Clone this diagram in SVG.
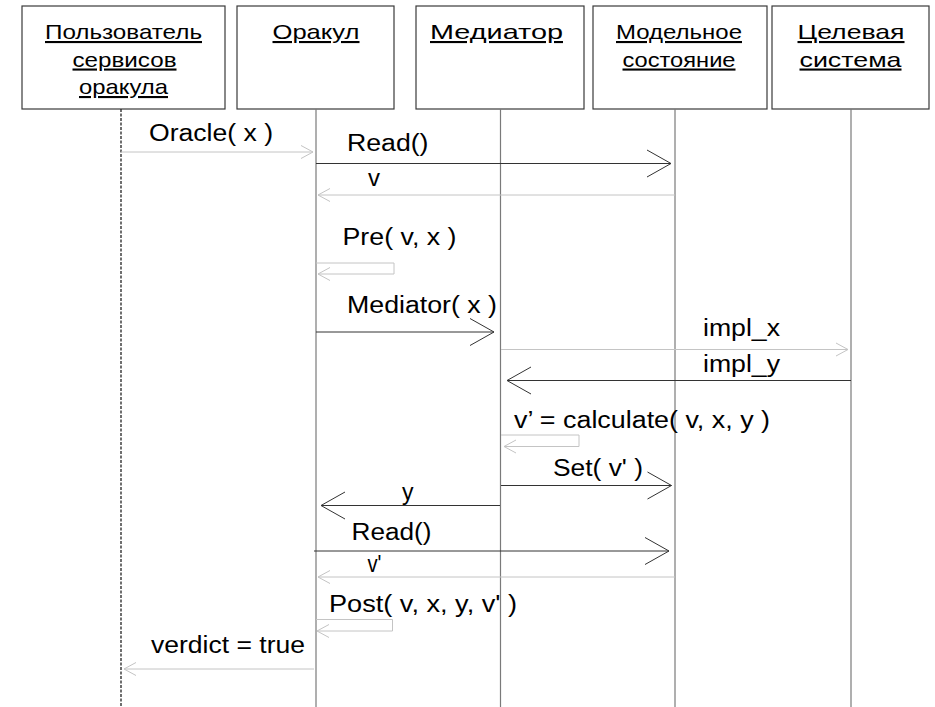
<svg xmlns="http://www.w3.org/2000/svg" width="935" height="707" viewBox="0 0 935 707">
<style>
  .box { fill: #ffffff; stroke: #3a3a3a; stroke-width: 1.2; }
  .title { font-family: "Liberation Sans", Arial, sans-serif; font-size: 21px; fill: #000; text-anchor: middle; text-decoration: underline; }
  .lbl { font-family: "Liberation Sans", Arial, sans-serif; font-size: 23.5px; fill: #000; }
  .life { stroke: #7a7a7a; stroke-width: 1.2; fill: none; }
  .life-dash { stroke: #222; stroke-width: 1.3; stroke-dasharray: 3 1.5; fill: none; }
  .dark { stroke: #333; stroke-width: 1; fill: none; }
  .light { stroke: #c4c4c4; stroke-width: 1; fill: none; }
</style>
<defs>
  <marker id="big" markerUnits="userSpaceOnUse" viewBox="-26 -15 28 30" refX="0" refY="0" markerWidth="28" markerHeight="30" orient="auto" overflow="visible">
    <path d="M-24,-13.5 L0,0 L-24,13.5" fill="none" stroke="#333" stroke-width="1"/>
  </marker>
  <marker id="small" markerUnits="userSpaceOnUse" viewBox="-14 -8 16 16" refX="0" refY="0" markerWidth="16" markerHeight="16" orient="auto" overflow="visible">
    <path d="M-12,-6.5 L0,0 L-12,6.5" fill="none" stroke="#c4c4c4" stroke-width="1"/>
  </marker>
</defs>
<rect width="935" height="707" fill="#ffffff"/>

<g id="user">
  <rect class="box" x="22" y="6" width="203" height="103"/>
  <text class="title" x="123.5" y="39" textLength="157" lengthAdjust="spacingAndGlyphs">Пользователь</text>
  <text class="title" x="124.5" y="66.5" textLength="104" lengthAdjust="spacingAndGlyphs">сервисов</text>
  <text class="title" x="123.5" y="94" textLength="89" lengthAdjust="spacingAndGlyphs">оракула</text>
  <line class="life-dash" x1="121" y1="109" x2="121" y2="707"/>
</g>
<g id="oracle">
  <rect class="box" x="237" y="6" width="157" height="103"/>
  <text class="title" x="316" y="39" textLength="87" lengthAdjust="spacingAndGlyphs">Оракул</text>
  <line class="life" x1="316" y1="109" x2="316" y2="707"/>
</g>
<g id="mediator">
  <rect class="box" x="416" y="6" width="168" height="103"/>
  <text class="title" x="496.5" y="39" textLength="133" lengthAdjust="spacingAndGlyphs">Медиатор</text>
  <line class="life" x1="500.5" y1="109" x2="500.5" y2="707"/>
</g>
<g id="model">
  <rect class="box" x="593" y="6" width="174" height="103"/>
  <text class="title" x="679" y="39" textLength="126" lengthAdjust="spacingAndGlyphs">Модельное</text>
  <text class="title" x="679" y="66.5" textLength="113" lengthAdjust="spacingAndGlyphs">состояние</text>
  <line class="life" x1="675" y1="109" x2="675" y2="707"/>
</g>
<g id="target">
  <rect class="box" x="772" y="6" width="157" height="103"/>
  <text class="title" x="851" y="39" textLength="107" lengthAdjust="spacingAndGlyphs">Целевая</text>
  <text class="title" x="850.5" y="66.5" textLength="102" lengthAdjust="spacingAndGlyphs">система</text>
  <line class="life" x1="851" y1="109" x2="851" y2="707"/>
</g>

<g id="connectors">
  <path class="light" d="M121,152 H313" marker-end="url(#small)"/>
  <path class="dark" d="M316,163.5 H671" marker-end="url(#big)"/>
  <path class="light" d="M675,195 H318" marker-end="url(#small)"/>
  <path class="light" d="M316,263 H394 V274 H318" marker-end="url(#small)"/>
  <path class="dark" d="M316,332 H494" marker-end="url(#big)"/>
  <path class="light" d="M501,349.5 H848" marker-end="url(#small)"/>
  <path class="dark" d="M851,380.5 H507" marker-end="url(#big)"/>
  <path class="light" d="M501,435 H579 V446.5 H504" marker-end="url(#small)"/>
  <path class="dark" d="M501,485.5 H671.5" marker-end="url(#big)"/>
  <path class="dark" d="M500,505.5 H321" marker-end="url(#big)"/>
  <path class="dark" d="M314,551 H669" marker-end="url(#big)"/>
  <path class="light" d="M675,577 H318" marker-end="url(#small)"/>
  <path class="light" d="M316,619.5 H392.5 V631 H317" marker-end="url(#small)"/>
  <path class="light" d="M314,669 H124" marker-end="url(#small)"/>
</g>

<g id="labels">
  <text class="lbl" x="149" y="141" textLength="124" lengthAdjust="spacingAndGlyphs">Oracle( x )</text>
  <text class="lbl" x="347" y="151" textLength="81.5" lengthAdjust="spacingAndGlyphs">Read()</text>
  <text class="lbl" x="368" y="186" textLength="12" lengthAdjust="spacingAndGlyphs">v</text>
  <text class="lbl" x="342.5" y="245" textLength="114" lengthAdjust="spacingAndGlyphs">Pre( v, x )</text>
  <text class="lbl" x="347" y="313" textLength="150" lengthAdjust="spacingAndGlyphs">Mediator( x )</text>
  <text class="lbl" x="703" y="335.5" textLength="77" lengthAdjust="spacingAndGlyphs">impl_x</text>
  <text class="lbl" x="703" y="372" textLength="77" lengthAdjust="spacingAndGlyphs">impl_y</text>
  <text class="lbl" x="514" y="428" textLength="256" lengthAdjust="spacingAndGlyphs">v’ = calculate( v, x, y )</text>
  <text class="lbl" x="553" y="476" textLength="90" lengthAdjust="spacingAndGlyphs">Set( v' )</text>
  <text class="lbl" x="402" y="500" textLength="11.5" lengthAdjust="spacingAndGlyphs">y</text>
  <text class="lbl" x="351.5" y="540" textLength="80" lengthAdjust="spacingAndGlyphs">Read()</text>
  <text class="lbl" x="367.5" y="571.5" textLength="14" lengthAdjust="spacingAndGlyphs">v'</text>
  <text class="lbl" x="329" y="611.5" textLength="188" lengthAdjust="spacingAndGlyphs">Post( v, x, y, v' )</text>
  <text class="lbl" x="151" y="652.5" textLength="154" lengthAdjust="spacingAndGlyphs">verdict = true</text>
</g>
</svg>
